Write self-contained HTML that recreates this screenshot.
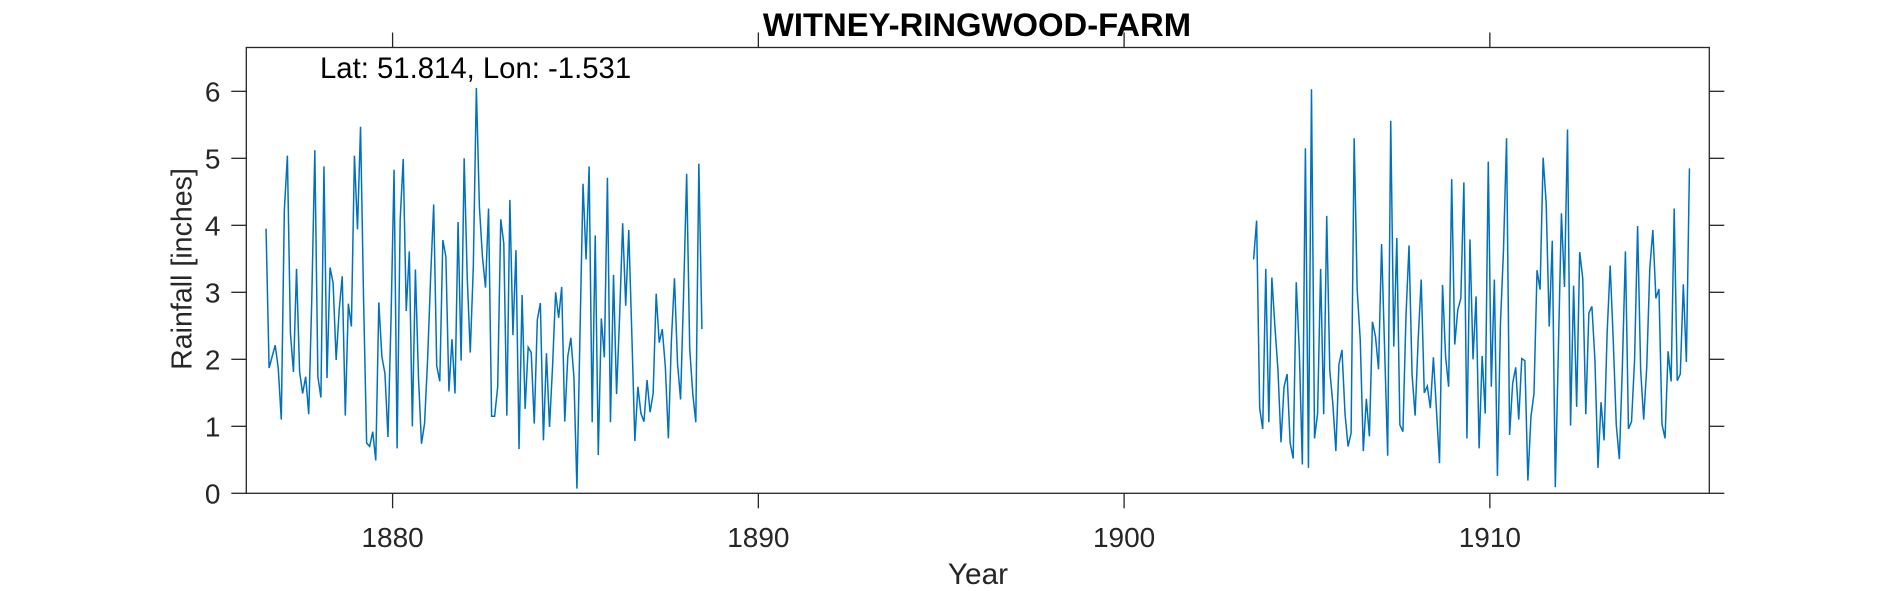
<!DOCTYPE html>
<html lang="en">
<head>
<meta charset="utf-8">
<title>WITNEY-RINGWOOD-FARM</title>
<style>
html,body{margin:0;padding:0;background:#fff;width:1890px;height:591px;overflow:hidden}
svg{display:block}
text{font-family:"Liberation Sans",Arial,sans-serif}
</style>
</head>
<body>
<svg id="chart" xmlns="http://www.w3.org/2000/svg" width="1890" height="591" viewBox="0 0 1890 591">
  <rect x="0" y="0" width="1890" height="591" fill="#fff"/>
  <g id="ticks"></g>
  <g id="series"></g>
  <rect x="246.3" y="47.5" width="1463" height="445.8" fill="none" stroke="#262626" stroke-width="1.3"/>
  <g id="labels"></g>
  <text x="977" y="36" text-anchor="middle" font-size="32.8" font-weight="bold" fill="#000">WITNEY-RINGWOOD-FARM</text>
  <text x="320" y="78" font-size="29.3" fill="#000">Lat: 51.814, Lon: -1.531</text>
  <text x="978" y="584" text-anchor="middle" font-size="29.8" fill="#262626">Year</text>
  <text transform="translate(191.5 269) rotate(-90)" text-anchor="middle" font-size="28.6" fill="#262626">Rainfall [inches]</text>
</svg>
<script>
const xTickYears = [1880, 1890, 1900, 1910];
const yTickValues = [0, 1, 2, 3, 4, 5, 6];
const xDomain = [1876, 1916];
const yDomain = [0, 6.654];
const firstRunStartYear = 1876.54;
const secondRunStartYear = 1903.54;
const monthStep = 1 / 12;
const firstRunRainfall = [
3.95,1.87,2.04,2.21,1.87,1.10,4.23,5.04,2.39,1.81,3.35,1.82,
1.49,1.74,1.18,2.89,5.12,1.74,1.43,4.88,1.72,3.37,3.14,1.99,
2.74,3.24,1.16,2.83,2.49,5.04,3.94,5.47,2.89,0.75,0.70,0.92,
0.49,2.85,2.04,1.79,0.84,2.59,4.83,0.67,4.08,4.99,2.72,3.61,
1.00,3.34,1.74,0.74,1.04,1.99,3.23,4.31,1.90,1.67,3.78,3.53,
1.52,2.30,1.49,4.05,1.98,5.00,3.23,2.10,3.38,6.05,4.28,3.53,
3.07,4.25,1.15,1.15,1.59,4.09,3.73,1.16,4.38,2.36,3.63,0.66,
2.96,1.26,2.18,2.10,1.04,2.59,2.84,0.79,2.09,0.99,1.89,3.00,
2.62,3.08,1.07,2.04,2.32,1.74,0.07,2.39,4.62,3.49,4.88,1.06,
3.85,0.57,2.61,2.03,4.71,1.06,3.26,1.48,2.64,4.03,2.80,3.93,
2.39,0.78,1.59,1.19,1.07,1.69,1.21,1.49,2.98,2.25,2.45,1.89,
0.82,2.29,3.21,1.94,1.40,2.99,4.77,2.16,1.49,1.06,4.92,2.45
];
const secondRunRainfall = [
3.49,4.07,1.27,0.96,3.35,1.06,3.22,2.49,1.84,0.76,1.59,1.78,
0.75,0.52,3.15,2.14,0.43,5.15,0.38,6.03,0.82,1.19,3.35,1.18,
4.14,1.84,1.34,0.63,1.92,2.14,1.19,0.70,0.90,5.30,3.03,2.29,
0.63,1.41,0.85,2.56,2.34,1.85,3.72,2.14,0.56,5.56,2.19,3.81,
1.02,0.92,2.64,3.70,1.77,1.16,2.29,3.19,1.50,1.60,1.27,2.03,
1.24,0.45,3.11,2.04,1.59,4.69,2.22,2.74,2.91,4.64,0.82,3.79,
2.00,2.94,0.67,2.05,1.19,4.95,1.59,3.19,0.26,2.54,3.63,5.30,
0.87,1.64,1.88,1.10,2.01,1.98,0.19,1.14,1.49,3.33,3.04,5.01,
4.33,2.49,3.77,0.09,2.14,4.18,3.08,5.43,1.01,3.10,1.29,3.60,
3.21,1.18,2.69,2.79,1.99,0.38,1.36,0.79,2.39,3.40,2.29,1.02,
0.51,1.89,3.61,0.96,1.07,1.99,3.99,1.84,1.10,1.89,3.36,3.93,
2.91,3.05,1.03,0.82,2.12,1.67,4.25,1.68,1.78,3.12,1.96,4.85
];

const plotLeft = 246.3, plotRight = 1709.3, plotTop = 47.5, plotBottom = 493.3;
const tickLength = 15;
const SVG_NS = 'http://www.w3.org/2000/svg';

function xScale(year) {
  return plotLeft + (year - xDomain[0]) / (xDomain[1] - xDomain[0]) * (plotRight - plotLeft);
}
function yScale(value) {
  return plotBottom - (value - yDomain[0]) / (yDomain[1] - yDomain[0]) * (plotBottom - plotTop);
}
function makeTick(parent, x1, y1, x2, y2, name) {
  const el = document.createElementNS(SVG_NS, 'line');
  el.setAttribute('x1', x1);
  el.setAttribute('y1', y1);
  el.setAttribute('x2', x2);
  el.setAttribute('y2', y2);
  el.setAttribute('stroke', '#262626');
  el.setAttribute('stroke-width', '1.3');
  
  
  parent.appendChild(el);
}
function makeLabel(parent, x, y, anchor, content, name) {
  const el = document.createElementNS(SVG_NS, 'text');
  el.setAttribute('x', x);
  el.setAttribute('y', y);
  el.setAttribute('text-anchor', anchor);
  el.setAttribute('font-size', '28');
  el.setAttribute('fill', '#262626');
  
  
  el.textContent = content;
  parent.appendChild(el);
}
function drawRun(parent, startYear, values, name) {
  const pts = values.map(function (v, i) {
    return xScale(startYear + i * monthStep).toFixed(2) + ',' + yScale(v).toFixed(2);
  });
  const el = document.createElementNS(SVG_NS, 'polyline');
  el.setAttribute('points', pts.join(' '));
  el.setAttribute('fill', 'none');
  el.setAttribute('stroke', '#0072BD');
  el.setAttribute('stroke-width', '1.5');
  el.setAttribute('stroke-linejoin', 'miter');
  
  
  parent.appendChild(el);
}

const tickGroup = document.getElementById('ticks');
const labelGroup = document.getElementById('labels');
const seriesGroup = document.getElementById('series');

xTickYears.forEach(function (year) {
  const x = xScale(year);
  makeTick(tickGroup, x, plotBottom, x, plotBottom + tickLength, 'x-tick-bottom-' + year);
  makeTick(tickGroup, x, plotTop, x, plotTop - tickLength, 'x-tick-top-' + year);
  makeLabel(labelGroup, x, 547, 'middle', String(year), 'x-tick-label-' + year);
});
yTickValues.forEach(function (value) {
  const y = yScale(value);
  makeTick(tickGroup, plotLeft, y, plotLeft - tickLength, y, 'y-tick-left-' + value);
  makeTick(tickGroup, plotRight, y, plotRight + tickLength, y, 'y-tick-right-' + value);
  makeLabel(labelGroup, 220.5, y + 10.3, 'end', String(value), 'y-tick-label-' + value);
});
drawRun(seriesGroup, firstRunStartYear, firstRunRainfall, 'rainfall-line-1876-1888');
drawRun(seriesGroup, secondRunStartYear, secondRunRainfall, 'rainfall-line-1903-1915');
</script>
</body>
</html>
